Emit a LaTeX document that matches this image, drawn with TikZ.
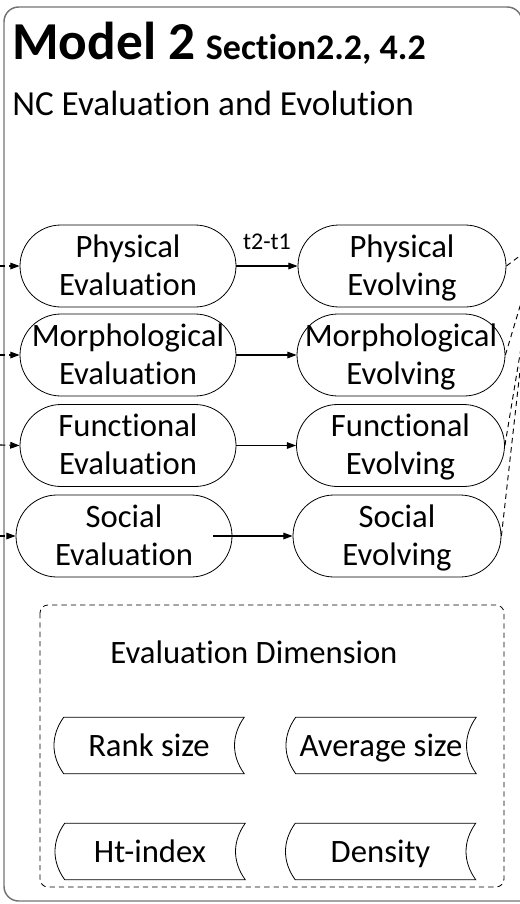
\documentclass[tikz,border=0pt]{standalone}
\usepackage{fontspec}
\setmainfont{Carlito}[Ligatures=NoCommon]
\usetikzlibrary{arrows.meta,shapes.misc,calc}
\newcommand\sdpath[1]{\draw[line width=0.6pt] ($(#1.north west)+(10,0)$) -- (#1.north east) .. controls ($(#1.north east)+(-13,18)$) and ($(#1.south east)+(-13,-18)$) .. (#1.south east) -- ($(#1.south west)+(10,0)$) .. controls ($(#1.south west)+(-3,-18)$) and ($(#1.north west)+(-3,18)$) .. cycle;}
\newcommand\mystrut{\rule[-6.75pt]{0pt}{28.5pt}}
\newcommand\lns[2]{\makebox[0pt][c]{#1}\mystrut\\\makebox[0pt][c]{#2}\mystrut}
\begin{document}
\begin{tikzpicture}[x=0.75pt,y=-0.75pt,
  txt/.style={font=\fontsize{24.5}{28.5}\selectfont},
  stadium/.style={rounded rectangle, draw=black, line width=0.6pt, minimum height=61.5pt, inner sep=0pt, align=center, txt},
  evalbox/.style={stadium, minimum width=162pt},
  evolbox/.style={stadium, minimum width=156pt},
  dimbox/.style={minimum width=142.5pt, minimum height=42pt, inner sep=0pt, text height=22pt, text depth=5pt, txt},
  arr/.style={line width=0.85pt, -{Triangle[length=7pt,width=5pt]}},
  darr/.style={arr, dash pattern=on 4pt off 3pt},
  dline/.style={line width=0.7pt, dash pattern=on 4pt off 3pt}]
\useasboundingbox (0,0) rectangle (519,904);
% outer frame
\draw[draw=black!55, line width=1.1pt, rounded corners=11pt] (522,940) -- (522,7) -- (4,7) -- (4,901) -- (560,901);
% titles
\node[anchor=base west, inner sep=0pt] (title) at (12,59) {\fontsize{40}{44}\selectfont\bfseries Model 2\hspace{0.2em}\fontsize{27}{30}\selectfont Section2.2, 4.2};
\node[anchor=base west, inner sep=0pt, font=\fontsize{26.4}{30}\selectfont] (sub) at (12,115) {NC Evaluation and Evolution};
% evaluation column
\node[evalbox] (pe) at (128,266) {\lns{Physical}{Evaluation}};
\node[evalbox] (me) at (128,355) {\lns{Morphological}{Evaluation}};
\node[evalbox] (fe) at (128,445.5) {\lns{Functional}{Evaluation}};
\node[evalbox] (se) at (124,536) {\lns{Social}{Evaluation}};
% evolving column
\node[evolbox] (pv) at (402,266) {\lns{Physical}{Evolving}};
\node[evolbox] (mv) at (401,355) {\lns{Morphological}{Evolving}};
\node[evolbox] (fv) at (400.5,445.5) {\lns{Functional}{Evolving}};
\node[evolbox] (sv) at (397,536) {\lns{Social}{Evolving}};
% incoming dashed arrows
\coordinate (ip) at (0,266);
\coordinate (im) at (0,355);
\coordinate (if) at (0,445);
\coordinate (is) at (0,536);
\draw[darr] (ip) -- (pe.west);
\draw[darr] (im) -- (me.west);
\draw[darr] (if) -- (fe.west);
\draw[darr] (is) -- (se.west);
% evolution arrows
\draw[arr] (pe.east) -- (pv.west) node[midway, above=12pt, inner sep=0pt, font=\fontsize{18}{20}\selectfont] (dt) {t2-t1};
\draw[arr] (me.east) -- (mv.west);
\draw[arr] (fe.east) -- (fv.west);
\coordinate (ss) at (213,536);
\draw[arr] (ss) -- (sv.west);
% outgoing dashed lines
\coordinate (op) at (521,255);
\coordinate (om) at (521,303);
\coordinate (of) at (521,348);
\coordinate (os) at (521,362);
\draw[dline] (pv.east) -- (op);
\draw[dline] (mv.east) -- (om);
\draw[dline] (fv.east) -- (of);
\draw[dline] (sv.east) -- (os);
% evaluation dimension box
\draw[line width=0.6pt, dash pattern=on 4pt off 3pt, rounded corners=6pt] (40,605) rectangle (504,887);
\node[anchor=base, inner sep=0pt, txt] (dimtitle) at (254,663) {Evaluation Dimension};
\node[dimbox] (rs) at (149,745.5) {Rank size};
\node[dimbox] (as) at (381,745.5) {Average size};
\node[dimbox] (ht) at (150,851.5) {Ht-index};
\node[dimbox] (de) at (380.5,851.5) {Density};
\sdpath{rs}
\sdpath{as}
\sdpath{ht}
\sdpath{de}
\end{tikzpicture}
\end{document}
